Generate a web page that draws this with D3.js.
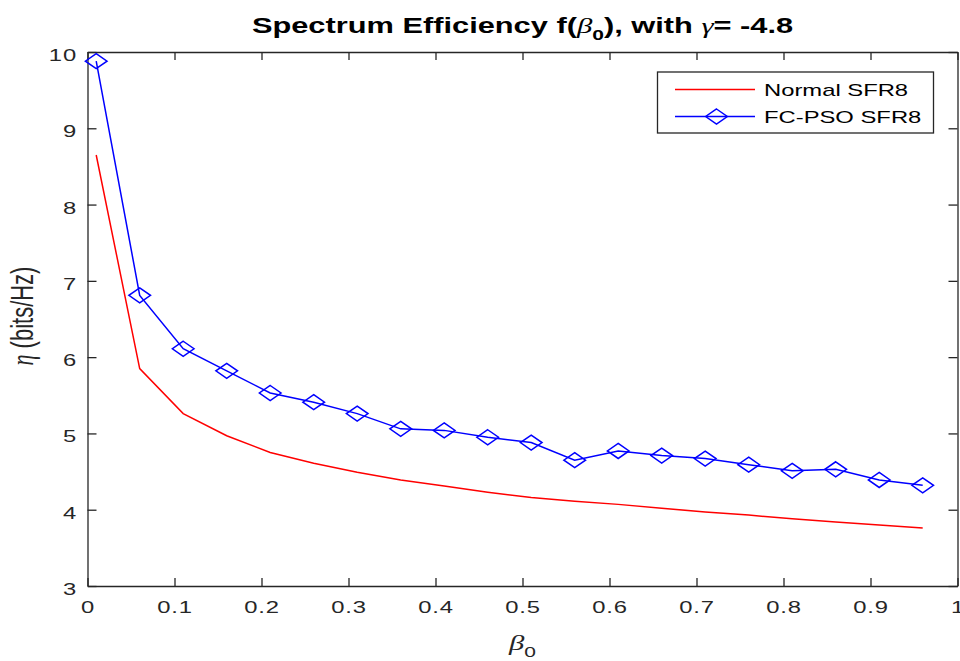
<html>
<script src="https://d3js.org/d3.v7.min.js"></script>
<style>
body{margin:0;background:#fff;}
svg text{font-family:"Liberation Sans",Arial,Helvetica,sans-serif;}
.greek{font-family:"Liberation Serif","DejaVu Serif",serif;font-style:italic;font-weight:normal;}
</style>
<body>
<svg id="chart" width="960" height="661"></svg>
</body>
<script>
// data
const beta0 = [0.01, 0.06, 0.11, 0.16, 0.21, 0.26, 0.31, 0.36, 0.41, 0.46,
               0.51, 0.56, 0.61, 0.66, 0.71, 0.76, 0.81, 0.86, 0.91, 0.96];
const normalSFR8 = [8.65, 5.85, 5.26, 4.97, 4.75, 4.61, 4.49, 4.39, 4.31, 4.23,
                    4.16, 4.11, 4.07, 4.02, 3.97, 3.93, 3.88, 3.84, 3.80, 3.76];
const fcpsoSFR8 = [9.88, 6.81, 6.11, 5.82, 5.53, 5.41, 5.26, 5.06, 5.04, 4.95,
                   4.88, 4.65, 4.77, 4.71, 4.67, 4.59, 4.51, 4.53, 4.39, 4.32];
const seriesNames = ['Normal SFR8', 'FC-PSO SFR8'];
const xTicks = [0, 0.1, 0.2, 0.3, 0.4, 0.5, 0.6, 0.7, 0.8, 0.9, 1];
const yTicks = [3, 4, 5, 6, 7, 8, 9, 10];

// the picture is stretched sideways, so text and markers are too
const sx = 1.4;
const axisColor = '#262626';

const svg = d3.select('#chart');
const plotLeft = 87.5, plotRight = 957.5, plotTop = 52, plotBottom = 586;

const x = d3.scaleLinear().domain([0, 1]).range([plotLeft, plotRight]);
const y = d3.scaleLinear().domain([3, 10]).range([plotBottom, plotTop]);

// wide diamond marker
const wideDiamond = {
  draw(ctx, size){
    const h = Math.sqrt(size) / 2;
    ctx.moveTo(0, -h);
    ctx.lineTo(h * sx * 1.03, 0);
    ctx.lineTo(0, h);
    ctx.lineTo(-h * sx * 1.03, 0);
    ctx.closePath();
  }
};
const marker = d3.symbol().type(wideDiamond).size(225);

const styleAxis = g => {
  g.select('.domain').attr('stroke', axisColor).attr('stroke-width', 1.3);
  g.selectAll('.tick line').attr('stroke', axisColor).attr('stroke-width', 1.3);
  g.selectAll('.tick text')
    .attr('fill', axisColor)
    .attr('font-size', 17)
    .attr('letter-spacing', 0.6)
    .attr('font-family', '"Liberation Sans",Arial,sans-serif')
    .attr('transform', `scale(${sx},1)`);
};

svg.append('g')
  .attr('transform', `translate(0,${plotBottom})`)
  .call(d3.axisBottom(x).tickValues(xTicks).tickFormat(d => d)
    .tickSizeInner(-8).tickSizeOuter(0).tickPadding(15))
  .call(styleAxis);

svg.append('g')
  .attr('transform', `translate(${plotLeft},0)`)
  .call(d3.axisLeft(y).tickValues(yTicks).tickFormat(d => d)
    .tickSizeInner(-9).tickSizeOuter(0).tickPadding(7.5))
  .call(styleAxis)
  .call(g => g.selectAll('.tick text').attr('dy', '0.5em'));

svg.append('g')
  .attr('transform', `translate(0,${plotTop})`)
  .call(d3.axisTop(x).tickValues(xTicks).tickFormat('')
    .tickSizeInner(-8).tickSizeOuter(0))
  .call(styleAxis);

svg.append('g')
  .attr('transform', `translate(${plotRight},0)`)
  .call(d3.axisRight(y).tickValues(yTicks).tickFormat('')
    .tickSizeInner(-9).tickSizeOuter(0))
  .call(styleAxis);

// lines
const line = d3.line()
  .x(d => x(d[0]))
  .y(d => y(d[1]));

svg.append('path')
  .datum(d3.zip(beta0, normalSFR8))
  .attr('d', line)
  .attr('fill', 'none')
  .attr('stroke', '#ff0000')
  .attr('stroke-width', 1.5);

svg.append('path')
  .datum(d3.zip(beta0, fcpsoSFR8))
  .attr('d', line)
  .attr('fill', 'none')
  .attr('stroke', '#0000ff')
  .attr('stroke-width', 1.5);

svg.append('g')
  .selectAll('path')
  .data(d3.zip(beta0, fcpsoSFR8))
  .enter()
  .append('path')
    .attr('d', marker)
    .attr('transform', d => `translate(${x(d[0])},${y(d[1])})`)
    .attr('fill', 'none')
    .attr('stroke', '#0000ff')
    .attr('stroke-width', 1.5);

// title
const title = svg.append('text')
  .attr('transform', `translate(${(plotLeft + plotRight) / 2},33) scale(${sx},1)`)
  .attr('text-anchor', 'middle')
  .attr('font-size', 22)
  .attr('font-weight', 'bold')
  .attr('fill', '#000');
title.append('tspan').text('Spectrum Efficiency f(');
title.append('tspan').attr('class', 'greek').text('β');
title.append('tspan').attr('font-size', 15).attr('dy', 7).text('0');
title.append('tspan').attr('dy', -7).text('), with ');
title.append('tspan').attr('class', 'greek').text('γ');
title.append('tspan').text('= -4.8');

// axis labels
const xLabel = svg.append('text')
  .attr('transform', `translate(${(plotLeft + plotRight) / 2},650) scale(${sx},1)`)
  .attr('text-anchor', 'middle')
  .attr('font-size', 22)
  .attr('fill', axisColor);
xLabel.append('tspan').attr('class', 'greek').text('β');
xLabel.append('tspan').attr('font-size', 15).attr('dy', 7).text('0');

const yLabel = svg.append('text')
  .attr('transform', `translate(33,${(plotTop + plotBottom) / 2 - 3}) scale(${sx},1) rotate(-90)`)
  .attr('text-anchor', 'middle')
  .attr('font-size', 22)
  .attr('fill', axisColor);
yLabel.append('tspan').attr('class', 'greek').text('η');
yLabel.append('tspan').text(' (bits/Hz)');

// legend
const legend = svg.append('g');
legend.append('rect')
  .attr('x', 657.5).attr('y', 72)
  .attr('width', 276).attr('height', 61)
  .attr('fill', '#fff')
  .attr('stroke', axisColor)
  .attr('stroke-width', 1.3);

const legendRows = [
  {name: seriesNames[0], color: '#ff0000', marker: false, y: 89.5},
  {name: seriesNames[1], color: '#0000ff', marker: true, y: 116.5}
];
legendRows.forEach(r => {
  legend.append('line')
    .attr('x1', 675).attr('x2', 755)
    .attr('y1', r.y).attr('y2', r.y)
    .attr('stroke', r.color).attr('stroke-width', 1.5);
  if (r.marker) {
    legend.append('path')
      .attr('d', marker)
      .attr('transform', `translate(716.5,${r.y})`)
      .attr('fill', 'none')
      .attr('stroke', r.color)
      .attr('stroke-width', 1.5);
  }
  legend.append('text')
    .attr('transform', `translate(764,${r.y + 6.5}) scale(${sx},1)`)
    .attr('font-size', 17)
    .attr('fill', '#000')
    .text(r.name);
});
</script>
</html>
